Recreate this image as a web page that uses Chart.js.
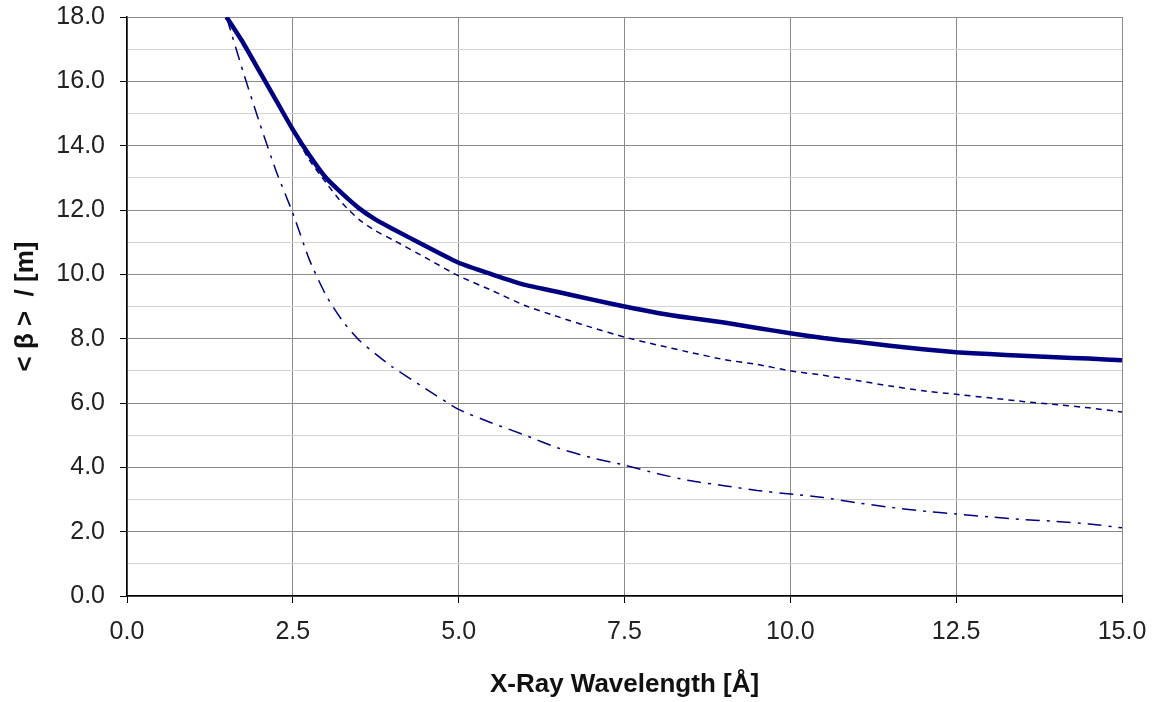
<!DOCTYPE html>
<html>
<head>
<meta charset="utf-8">
<script src="https://cdn.jsdelivr.net/npm/chart.js@4"></script>
<style>
  html, body { margin: 0; padding: 0; background: #fff; }
  #wrap { width: 1156px; height: 702px; }
</style>
</head>
<body>
<div id="wrap"><canvas id="betaChart" width="1156" height="702"></canvas></div>
<script>
// 波長 [Å]
const wavelength = [1.5, 1.75, 2.0, 2.25, 2.5, 2.75, 3.0, 3.25, 3.5, 3.75, 4.0, 4.5, 5.0, 5.5, 6.0, 6.5, 7.0, 7.5,
  8.0, 8.5, 9.0, 9.5, 10.0, 10.5, 11.0, 11.5, 12.0, 12.5, 13.0, 13.5, 14.0, 14.5, 15.0];

// <β> 各系列 [m]
const betaTotal = [18.0, 17.2, 16.3, 15.4, 14.5, 13.7, 13.0, 12.5, 12.05, 11.7, 11.42, 10.88, 10.36, 10.0, 9.67, 9.45,
  9.22, 9.0, 8.8, 8.64, 8.5, 8.33, 8.17, 8.02, 7.9, 7.78, 7.67, 7.58, 7.52, 7.47, 7.42, 7.38, 7.33];
const betaDash = [18.0, 17.2, 16.3, 15.4, 14.45, 13.55, 12.85, 12.2, 11.7, 11.35, 11.08, 10.52, 9.95, 9.5, 9.03, 8.68,
  8.35, 8.05, 7.8, 7.57, 7.35, 7.2, 7.0, 6.86, 6.7, 6.53, 6.38, 6.27, 6.16, 6.05, 5.95, 5.85, 5.72];
const betaDashDot = [18.0, 16.3, 14.7, 13.2, 11.9, 10.45, 9.35, 8.55, 7.95, 7.52, 7.12, 6.45, 5.8, 5.38, 5.0, 4.6,
  4.3, 4.07, 3.8, 3.58, 3.43, 3.28, 3.17, 3.06, 2.9, 2.76, 2.64, 2.55, 2.46, 2.38, 2.32, 2.24, 2.12];

// 軸の範囲
const xMin = 0, xMax = 15, xStep = 2.5;
const yMin = 0, yMax = 18, yStep = 1;

function toPoints(ys) {
    return wavelength.map((x, i) => ({ x: x, y: ys[i] }));
}

const navy = '#000080';
const tickFont = { family: 'Arial, "Liberation Sans", sans-serif', size: 25 };
const titleFont = { family: 'Arial, "Liberation Sans", sans-serif', size: 26, weight: 'bold' };

const ctx = document.getElementById('betaChart').getContext('2d');

const betaChart = new Chart(ctx, {
    type: 'line',
    data: {
        datasets: [{
            data: toPoints(betaTotal),
            borderColor: navy,
            borderWidth: 4.5,
            pointRadius: 0,
            tension: 0.2,
            fill: false
        }, {
            data: toPoints(betaDash),
            borderColor: navy,
            borderWidth: 1.5,
            borderDash: [6, 5],
            pointRadius: 0,
            tension: 0.2,
            fill: false
        }, {
            data: toPoints(betaDashDot),
            borderColor: navy,
            borderWidth: 1.5,
            borderDash: [14, 7, 3, 7],
            pointRadius: 0,
            tension: 0.2,
            fill: false
        }]
    },
    options: {
        responsive: false,
        animation: false,
        layout: { padding: { top: 17, right: 34, left: 0, bottom: 0 } },
        plugins: {
            legend: { display: false },
            tooltip: { enabled: false }
        },
        scales: {
            x: {
                type: 'linear',
                min: xMin,
                max: xMax,
                afterFit: (scale) => {
                    scale.height = 106;
                    scale.paddingLeft = 0;
                    scale.paddingRight = 0;
                },
                ticks: {
                    stepSize: xStep,
                    autoSkip: false,
                    maxRotation: 0,
                    color: '#222',
                    font: tickFont,
                    padding: 14,
                    callback: (v) => Number(v).toFixed(1)
                },
                grid: {
                    color: '#8a8a8a',
                    lineWidth: 1,
                    tickLength: 7,
                    tickColor: '#000'
                },
                border: { color: '#000', width: 1.5 },
                title: {
                    display: true,
                    text: 'X-Ray Wavelength [Å]',
                    color: '#111',
                    font: titleFont,
                    padding: { top: 0, bottom: 2 }
                }
            },
            y: {
                min: yMin,
                max: yMax,
                afterFit: (scale) => {
                    scale.width = 127;
                    scale.paddingTop = 0;
                    scale.paddingBottom = 0;
                },
                ticks: {
                    stepSize: yStep,
                    autoSkip: false,
                    color: '#222',
                    font: tickFont,
                    padding: 15,
                    callback: (v) => (v % 2 === 0 ? Number(v).toFixed(1) : '')
                },
                grid: {
                    // 2刻みは濃い線、1刻みは薄い線
                    color: (c) => (c.tick && c.tick.value % 2 === 0 ? '#8a8a8a' : '#d2d2d2'),
                    lineWidth: 1,
                    tickLength: 7,
                    tickColor: (c) => (c.tick && c.tick.value % 2 === 0 ? '#000' : 'rgba(0,0,0,0)')
                },
                border: { color: '#000', width: 1.5 },
                title: {
                    display: true,
                    text: '< β >  / [m]',
                    color: '#111',
                    font: titleFont,
                    padding: { top: 10, bottom: 0 }
                }
            }
        }
    }
});
</script>
</body>
</html>
